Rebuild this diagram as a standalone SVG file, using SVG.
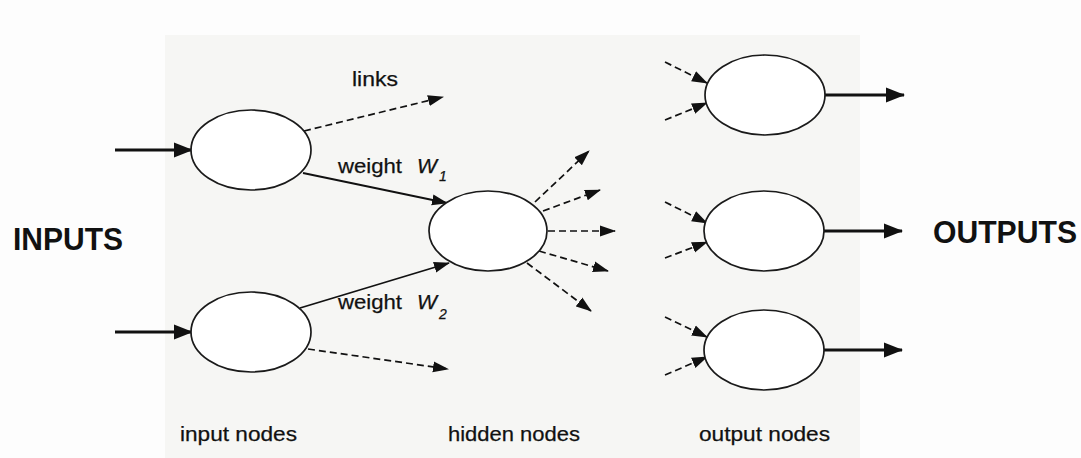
<svg xmlns="http://www.w3.org/2000/svg" width="1081" height="458" viewBox="0 0 1081 458">
<style>
.node{fill:#ffffff;stroke:#1a1a1a;stroke-width:1.7}
.thick{stroke:#111;stroke-width:3.2;fill:none}
.thin{stroke:#111;stroke-width:1.8;fill:none}
.dash{stroke:#111;stroke-width:1.7;fill:none;stroke-dasharray:7 4}
.lbl{font-family:"Liberation Sans",Arial,sans-serif;fill:#111;stroke:#111;stroke-width:0.25}
.big{font-family:"Liberation Sans",Arial,sans-serif;font-weight:bold;font-size:31px;fill:#111}
</style>
<defs>
<marker id="ah" markerUnits="userSpaceOnUse" viewBox="0 0 20 18" markerWidth="20" markerHeight="18" refX="18" refY="9" orient="auto">
<path d="M0,1.5 L19,9 L0,16.5 Z" fill="#111"/>
</marker>
<marker id="as" markerUnits="userSpaceOnUse" viewBox="0 0 16 13" markerWidth="16" markerHeight="13" refX="15" refY="6.5" orient="auto">
<path d="M0,1 L16,6.5 L0,12 Z" fill="#111"/>
</marker>
</defs>
<rect x="0" y="0" width="1081" height="458" fill="#fdfdfd"/>
<rect x="165" y="35" width="695" height="423" fill="#f6f6f4"/>
<g id="connectors">
<line class="thick" x1="115" y1="150" x2="192" y2="150" marker-end="url(#ah)"/>
<line class="thick" x1="115" y1="332" x2="192" y2="332" marker-end="url(#ah)"/>
<line class="dash" x1="304" y1="131" x2="443" y2="97" marker-end="url(#as)"/>
<line class="thin" x1="303" y1="173" x2="447" y2="203" marker-end="url(#as)"/>
<line class="thin" x1="300" y1="308" x2="449" y2="263" marker-end="url(#as)"/>
<line class="dash" x1="308" y1="349" x2="448" y2="369" marker-end="url(#as)"/>
<line class="dash" x1="535" y1="202" x2="589" y2="151" marker-end="url(#as)"/>
<line class="dash" x1="543" y1="211" x2="600" y2="190" marker-end="url(#as)"/>
<line class="dash" x1="548" y1="231" x2="615" y2="231" marker-end="url(#as)"/>
<line class="dash" x1="539" y1="251" x2="608" y2="271" marker-end="url(#as)"/>
<line class="dash" x1="527" y1="263" x2="591" y2="311" marker-end="url(#as)"/>
<line class="dash" x1="665" y1="62" x2="707" y2="83" marker-end="url(#as)"/>
<line class="dash" x1="665" y1="120" x2="707" y2="103" marker-end="url(#as)"/>
<line class="dash" x1="665" y1="202" x2="707" y2="223" marker-end="url(#as)"/>
<line class="dash" x1="665" y1="258" x2="707" y2="242" marker-end="url(#as)"/>
<line class="dash" x1="665" y1="317" x2="707" y2="337" marker-end="url(#as)"/>
<line class="dash" x1="665" y1="375" x2="707" y2="357" marker-end="url(#as)"/>
<line class="thick" x1="824" y1="95" x2="904" y2="95" marker-end="url(#ah)"/>
<line class="thick" x1="823" y1="231" x2="902" y2="231" marker-end="url(#ah)"/>
<line class="thick" x1="823" y1="350" x2="902" y2="350" marker-end="url(#ah)"/>
</g>
<g id="input1"><ellipse class="node" cx="251" cy="150" rx="60" ry="40"/></g>
<g id="input2"><ellipse class="node" cx="251" cy="332" rx="60" ry="40"/></g>
<g id="hidden"><ellipse class="node" cx="488" cy="231" rx="59" ry="40"/></g>
<g id="output1"><ellipse class="node" cx="765" cy="95" rx="60" ry="40"/></g>
<g id="output2"><ellipse class="node" cx="764" cy="231" rx="60" ry="40"/></g>
<g id="output3"><ellipse class="node" cx="764" cy="350" rx="60" ry="40"/></g>
<g id="labels">
<text class="big" x="13" y="250" textLength="110" lengthAdjust="spacingAndGlyphs">INPUTS</text>
<text class="big" x="933" y="243" textLength="144" lengthAdjust="spacingAndGlyphs">OUTPUTS</text>
<text class="lbl" x="352" y="86" font-size="21" textLength="46" lengthAdjust="spacingAndGlyphs">links</text>
<text class="lbl" x="338" y="173" font-size="21" textLength="64" lengthAdjust="spacingAndGlyphs">weight</text>
<text class="lbl" x="417" y="173" font-size="21" font-style="italic" textLength="20" lengthAdjust="spacingAndGlyphs">W</text>
<text class="lbl" x="439" y="181" font-size="14" font-style="italic">1</text>
<text class="lbl" x="338" y="309" font-size="21" textLength="64" lengthAdjust="spacingAndGlyphs">weight</text>
<text class="lbl" x="417" y="309" font-size="21" font-style="italic" textLength="20" lengthAdjust="spacingAndGlyphs">W</text>
<text class="lbl" x="439" y="319" font-size="14" font-style="italic">2</text>
<text class="lbl" x="180" y="441" font-size="21" textLength="117" lengthAdjust="spacingAndGlyphs">input nodes</text>
<text class="lbl" x="448" y="441" font-size="21" textLength="132" lengthAdjust="spacingAndGlyphs">hidden nodes</text>
<text class="lbl" x="699" y="441" font-size="21" textLength="131" lengthAdjust="spacingAndGlyphs">output nodes</text>
</g>
</svg>
